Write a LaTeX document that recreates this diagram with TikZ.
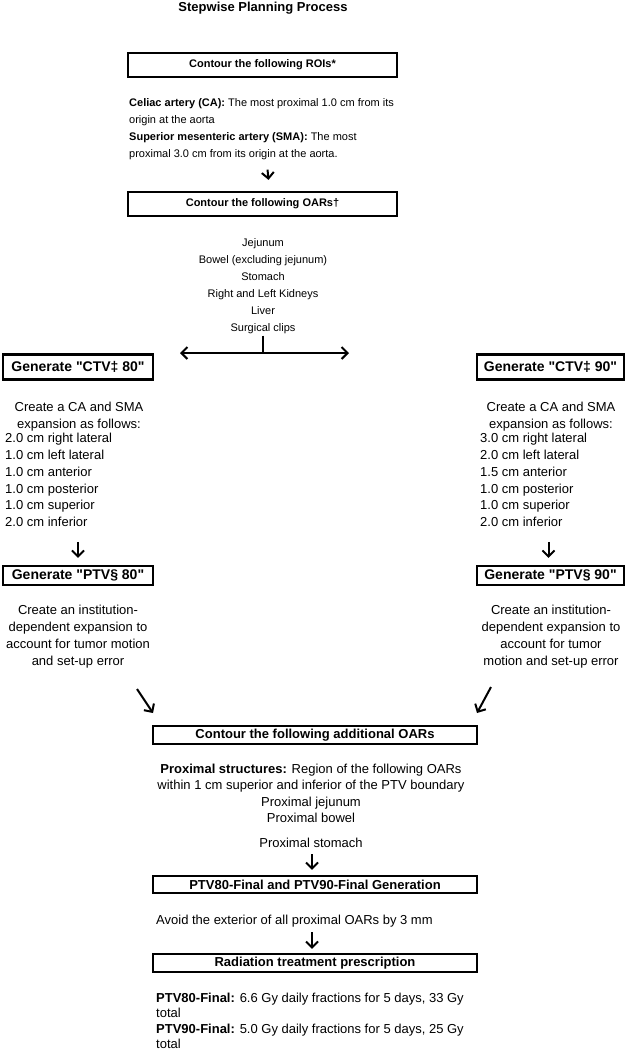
\documentclass[tikz,border=0pt]{standalone}
\usepackage{fontspec}
\newfontfamily\arial{Liberation Sans}
\usetikzlibrary{arrows.meta,calc}

\begin{document}
\begin{tikzpicture}
    [x=1pt,y=-1pt,
     box/.style={draw,line width=2.2pt,inner sep=0pt,font=\arial\fontsize{11}{13}\selectfont\bfseries},
     arr/.style={line width=2pt,-{Straight Barb[length=6pt,width=12pt]}},
     txt/.style={inner sep=0pt,font=\arial\fontsize{11}{17}\selectfont},
     midtxt/.style={inner sep=0pt,font=\arial\fontsize{13}{16.8}\selectfont},
     lowtxt/.style={inner sep=0pt,font=\arial\fontsize{13}{16.3}\selectfont}]
    \useasboundingbox (0,0) rectangle (627,1050);
    \node[inner sep=0pt,font=\arial\fontsize{13}{15}\selectfont\bfseries] (title) at (263,8) {Stepwise Planning Process};
    % upper part
    \node[box,minimum width=269pt,minimum height=24pt] (roi) at (262.5,65) {Contour the following ROIs*};
    \node[txt,align=left,anchor=north west] (roitxt) at (129,98)
      {\textbf{Celiac artery (CA):} The most proximal 1.0 cm from its\\
       origin at the aorta\\
       \textbf{Superior mesenteric artery (SMA):} The most\\
       proximal 3.0 cm from its origin at the aorta.};
    \node[box,minimum width=269pt,minimum height=24pt] (oar) at (262.5,204) {Contour the following OARs†};
    \node[txt,align=center,anchor=north] (oartxt) at (263,238)
      {Jejunum\\Bowel (excluding jejunum)\\Stomach\\Right and Left Kidneys\\Liver\\Surgical clips};
    \draw[arr] ($(roitxt.south)+(6,10)$) -- ($(oar.north)+(6,-11)$);
    \coordinate (fork) at (263,353);
    \coordinate (forkl) at (180,353);
    \coordinate (forkr) at (349,353);
    \draw[line width=2pt] ($(oartxt.south)+(0,2)$) -- (fork);
    \draw[arr] (fork) -- (forkl);
    \draw[arr] (fork) -- (forkr);
    % two columns
    \node[box,font=\arial\fontsize{14}{16}\selectfont\bfseries,minimum width=150pt,minimum height=25pt] (ctvA) at (78,367) {Generate "CTV‡ 80"};
    \node[box,font=\arial\fontsize{14}{16}\selectfont\bfseries,minimum width=147pt,minimum height=25pt] (ctvB) at (550.5,367) {Generate "CTV‡ 90"};
    \node[midtxt,align=center,anchor=north] (ctvAhead) at (79,402) {Create a CA and SMA\\expansion as follows:};
    \node[midtxt,align=left,anchor=north west] (ctvAlist) at (5,433)
      {2.0 cm right lateral\\1.0 cm left lateral\\1.0 cm anterior\\1.0 cm posterior\\1.0 cm superior\\2.0 cm inferior};
    \node[midtxt,align=center,anchor=north] (ctvBhead) at (551,402) {Create a CA and SMA\\expansion as follows:};
    \node[midtxt,align=left,anchor=north west] (ctvBlist) at (480,433)
      {3.0 cm right lateral\\2.0 cm left lateral\\1.5 cm anterior\\1.0 cm posterior\\1.0 cm superior\\2.0 cm inferior};
    \node[box,font=\arial\fontsize{14}{16}\selectfont\bfseries,minimum width=150pt,minimum height=19pt] (ptvA) at (78,575.5) {Generate "PTV§ 80"};
    \node[box,font=\arial\fontsize{14}{16}\selectfont\bfseries,minimum width=147pt,minimum height=19pt] (ptvB) at (550.5,575.5) {Generate "PTV§ 90"};
    \draw[arr] ($(ctvAlist.south -| ptvA.north)+(0,15)$) -- ($(ptvA.north)+(0,-7)$);
    \draw[arr] ($(ctvBlist.south -| ptvB.north)+(-2,15)$) -- ($(ptvB.north)+(-2,-7)$);
    \node[midtxt,align=center,anchor=north] (ptvAtxt) at (78,605)
      {Create an institution-\\dependent expansion to\\account for tumor motion\\and set-up error};
    \node[midtxt,align=center,anchor=north] (ptvBtxt) at (551,605)
      {Create an institution-\\dependent expansion to\\account for tumor\\motion and set-up error};
    % lower part
    \node[box,font=\arial\fontsize{13}{15}\selectfont\bfseries,minimum width=324pt,minimum height=18pt] (add) at (315,735) {Contour the following additional OARs};
    \coordinate (dlA) at (137,689);
    \coordinate (dlB) at (153,713);
    \coordinate (drA) at (491,687);
    \coordinate (drB) at (477,713);
    \draw[arr] (dlA) -- (dlB);
    \draw[arr] (drA) -- (drB);
    \node[lowtxt,align=center,anchor=north] (addtxt) at (311,764)
      {\textbf{Proximal structures:} Region of the following OARs\\
       within 1 cm superior and inferior of the PTV boundary\\
       Proximal jejunum\\Proximal bowel\\[9pt]Proximal stomach};
    \node[box,font=\arial\fontsize{13}{15}\selectfont\bfseries,minimum width=324pt,minimum height=17pt] (fin) at (315,884.5) {PTV80-Final and PTV90-Final Generation};
    \draw[arr] ($(addtxt.south)+(1,6)$) -- ($(fin.north)+(-3,-5)$);
    \node[lowtxt,anchor=west] (avoid) at (156,921) {Avoid the exterior of all proximal OARs by 3 mm};
    \node[box,font=\arial\fontsize{13}{15}\selectfont\bfseries,minimum width=324pt,minimum height=18pt] (rx) at (315,963) {Radiation treatment prescription};
    \draw[arr] ($(avoid.south -| fin.south)+(-3,5)$) -- ($(rx.north)+(-3,-4)$);
    \node[lowtxt,font=\arial\fontsize{13}{15.3}\selectfont,align=left,anchor=north west] (rxtxt) at (156,993)
      {\textbf{PTV80-Final:} 6.6 Gy daily fractions for 5 days, 33 Gy\\total\\
       \textbf{PTV90-Final:} 5.0 Gy daily fractions for 5 days, 25 Gy\\total};
  \end{tikzpicture}
\end{document}
